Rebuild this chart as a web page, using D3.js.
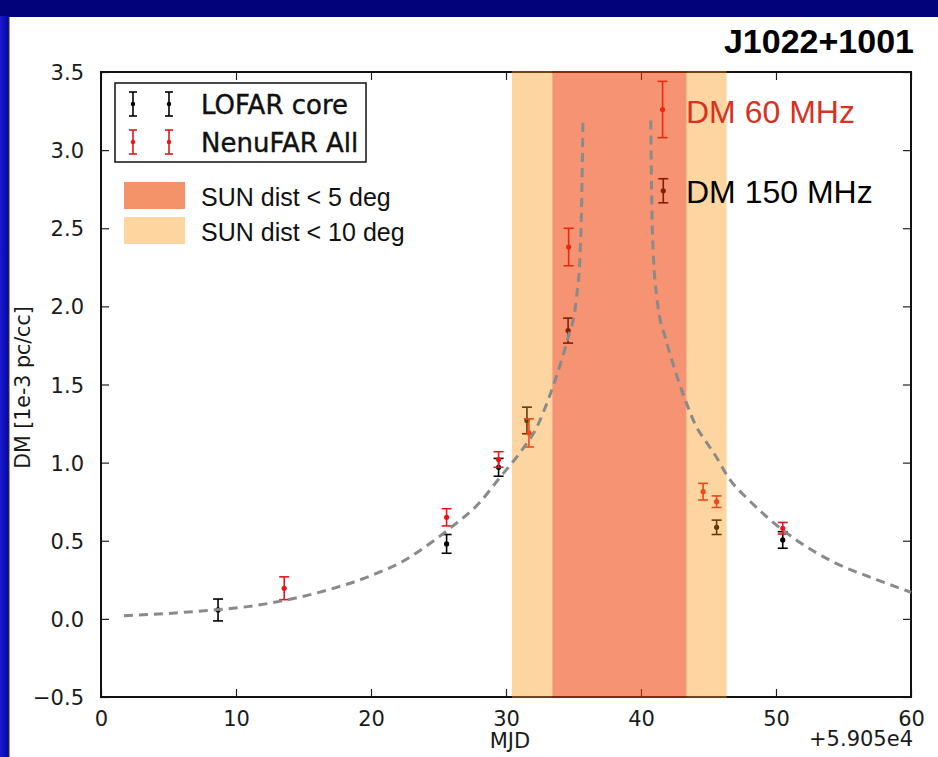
<!DOCTYPE html>
<html>
<head>
<meta charset="utf-8">
<script src="https://cdn.jsdelivr.net/npm/d3@7"></script>
<style>
  html, body { margin: 0; padding: 0; background: #02027a; }
  svg { display: block; }
</style>
</head>
<body>
<svg id="chart" width="938" height="757"></svg>
<script>
// ---- data -------------------------------------------------------------
const xTicks = [0, 10, 20, 30, 40, 50, 60];
const yTicks = [-0.5, 0, 0.5, 1.0, 1.5, 2.0, 2.5, 3.0, 3.5];

// LOFAR core DM measurements (MJD offset from 59050, DM in 1e-3 pc/cc)
const lofarMJD = [8.67, 25.6, 29.45, 31.55, 34.6, 41.65, 45.6, 50.5];
const lofarDM  = [0.057, 0.48, 0.97, 1.27, 1.845, 2.74, 0.586, 0.505];
const lofarErr = [0.07, 0.06, 0.057, 0.085, 0.08, 0.077, 0.046, 0.053];

// NenuFAR DM measurements
const nenuMJD = [13.57, 25.6, 29.45, 31.7, 34.64, 41.6, 44.6, 45.6, 50.5];
const nenuDM  = [0.196, 0.65, 1.02, 1.19, 2.38, 3.26, 0.814, 0.75, 0.58];
const nenuErr = [0.073, 0.055, 0.05, 0.09, 0.12, 0.18, 0.053, 0.037, 0.037];

// Solar-wind model curve, before and after conjunction
const modelPreMJD  = [1.7, 5, 8.2, 11, 13.7, 17, 20.1, 22.6, 24, 26, 28, 29.5, 31, 32.3, 33.2, 34.2, 34.6, 35.2, 35.5, 35.6, 35.7];
const modelPreDM   = [0.02, 0.035, 0.056, 0.08, 0.12, 0.19, 0.28, 0.38, 0.46, 0.59, 0.74, 0.9, 1.06, 1.23, 1.42, 1.68, 1.8, 2.04, 2.36, 2.65, 3.19];
const modelPostMJD = [40.72, 40.8, 40.9, 41.2, 41.8, 42.2, 43.2, 44.1, 44.85, 45.4, 46.6, 48, 49.3, 51.5, 54.2, 57.5, 60];
const modelPostDM  = [3.19, 2.65, 2.36, 2.04, 1.8, 1.68, 1.42, 1.23, 1.13, 1.06, 0.89, 0.76, 0.654, 0.505, 0.366, 0.25, 0.17];

// Sun-proximity windows (MJD offset)
const sun10 = [30.44, 46.34];
const sun5  = [33.43, 43.37];

// ---- layout -----------------------------------------------------------
const svg = d3.select("#chart");
const W = 938, H = 757;
const plot = { left: 101, right: 911, top: 72, bottom: 697 };

const x = d3.scaleLinear().domain([0, 60]).range([plot.left, plot.right]);
const y = d3.scaleLinear().domain([-0.5, 3.5]).range([plot.bottom, plot.top]);

const mplFont = "'DejaVu Sans', 'Bitstream Vera Sans', sans-serif";
const slideFont = "'Liberation Sans', Arial, Helvetica, sans-serif";

// slide frame
svg.append("rect").attr("width", W).attr("height", H).attr("fill", "#02027a");
const edge = svg.append("defs").append("linearGradient").attr("id", "edgeBlue")
  .attr("x1", 0).attr("x2", 1).attr("y1", 0).attr("y2", 0);
edge.append("stop").attr("offset", 0).attr("stop-color", "#1a1ad0");
edge.append("stop").attr("offset", 1).attr("stop-color", "#0606a0");
svg.append("rect").attr("x", 0).attr("y", 16).attr("width", 9).attr("height", H - 16)
  .attr("fill", "url(#edgeBlue)");
svg.append("rect").attr("x", 9).attr("y", 17).attr("width", W - 9).attr("height", H - 17)
  .attr("fill", "#ffffff");
svg.append("line").attr("x1", 9).attr("x2", 9).attr("y1", 17).attr("y2", H)
  .attr("stroke", "#333").attr("stroke-width", 1);

// ---- axes -------------------------------------------------------------
const fmtY = d => d3.format(".1f")(d).replace("-", "\u2212");

const gAxes = svg.append("g");
// left axis with labels, ticks pointing inward
gAxes.append("g").attr("transform", `translate(${plot.left},0)`)
  .call(d3.axisLeft(y).tickValues(yTicks).tickFormat(fmtY).tickSizeInner(-8).tickSizeOuter(0).tickPadding(17))
  .call(g => g.select(".domain").remove())
  .call(g => g.selectAll("text").attr("font-family", mplFont).attr("font-size", 21).attr("fill", "#1a1a1a").attr("dy", "0.36em"))
  .call(g => g.selectAll("line").attr("stroke", "#222").attr("stroke-width", 1.2));
// right axis ticks only
gAxes.append("g").attr("transform", `translate(${plot.right},0)`)
  .call(d3.axisRight(y).tickValues(yTicks).tickFormat("").tickSizeInner(-8).tickSizeOuter(0))
  .call(g => g.select(".domain").remove())
  .call(g => g.selectAll("line").attr("stroke", "#222").attr("stroke-width", 1.2));
// bottom axis with labels
gAxes.append("g").attr("transform", `translate(0,${plot.bottom})`)
  .call(d3.axisBottom(x).tickValues(xTicks).tickFormat(d3.format("d")).tickSizeInner(-8).tickSizeOuter(0).tickPadding(14))
  .call(g => g.select(".domain").remove())
  .call(g => g.selectAll("text").attr("font-family", mplFont).attr("font-size", 21).attr("fill", "#1a1a1a"))
  .call(g => g.selectAll("line").attr("stroke", "#222").attr("stroke-width", 1.2));
// top axis ticks only
gAxes.append("g").attr("transform", `translate(0,${plot.top})`)
  .call(d3.axisTop(x).tickValues(xTicks).tickFormat("").tickSizeInner(-8).tickSizeOuter(0))
  .call(g => g.select(".domain").remove())
  .call(g => g.selectAll("line").attr("stroke", "#222").attr("stroke-width", 1.2));

// axes frame
svg.append("rect").attr("x", plot.left).attr("y", plot.top)
  .attr("width", plot.right - plot.left).attr("height", plot.bottom - plot.top)
  .attr("fill", "none").attr("stroke", "#111").attr("stroke-width", 2);

// axis titles
svg.append("text").attr("x", (plot.left + plot.right) / 2 + 4).attr("y", 748)
  .attr("text-anchor", "middle").attr("font-family", mplFont).attr("font-size", 21)
  .attr("fill", "#1a1a1a").text("MJD");
svg.append("text").attr("x", plot.right + 2).attr("y", 746)
  .attr("text-anchor", "end").attr("font-family", mplFont).attr("font-size", 21)
  .attr("fill", "#1a1a1a").text("+5.905e4");
svg.append("text").attr("transform", `translate(30,${(plot.top + plot.bottom) / 2 + 3}) rotate(-90)`)
  .attr("text-anchor", "middle").attr("font-family", mplFont).attr("font-size", 20.5)
  .attr("fill", "#1a1a1a").text("DM [1e-3 pc/cc]");

// ---- error bars -------------------------------------------------------
function errorBars(g, xs, ys, es, color) {
  const rows = xs.map((d, i) => ({ x: d, y: ys[i], e: es[i] }));
  const grp = g.append("g").selectAll("g").data(rows).join("g");
  grp.append("line")
    .attr("x1", d => x(d.x)).attr("x2", d => x(d.x))
    .attr("y1", d => y(d.y - d.e)).attr("y2", d => y(d.y + d.e))
    .attr("stroke", color).attr("stroke-width", 1.6);
  [-1, 1].forEach(s => {
    grp.append("line")
      .attr("x1", d => x(d.x) - 5).attr("x2", d => x(d.x) + 5)
      .attr("y1", d => y(d.y + s * d.e)).attr("y2", d => y(d.y + s * d.e))
      .attr("stroke", color).attr("stroke-width", 1.6);
  });
  grp.append("circle").attr("cx", d => x(d.x)).attr("cy", d => y(d.y))
    .attr("r", 2.6).attr("fill", color);
}
const gData = svg.append("g");
errorBars(gData, lofarMJD, lofarDM, lofarErr, "#000000");
errorBars(gData, nenuMJD, nenuDM, nenuErr, "#e8141c");

// ---- plot legend (errorbar entries) -----------------------------------
const gLeg = svg.append("g");
gLeg.append("rect").attr("x", 115).attr("y", 83).attr("width", 251).attr("height", 79)
  .attr("fill", "#fff").attr("stroke", "#111").attr("stroke-width", 1.5);
const legRows = [
  { label: "LOFAR core", color: "#000000", cy: 104 },
  { label: "NenuFAR All", color: "#e8141c", cy: 142 }
];
legRows.forEach(r => {
  [133, 169].forEach(cx => {
    gLeg.append("line").attr("x1", cx).attr("x2", cx).attr("y1", r.cy - 12).attr("y2", r.cy + 12)
      .attr("stroke", r.color).attr("stroke-width", 1.6);
    [-12, 12].forEach(o => gLeg.append("line").attr("x1", cx - 4).attr("x2", cx + 4)
      .attr("y1", r.cy + o).attr("y2", r.cy + o).attr("stroke", r.color).attr("stroke-width", 1.6));
    gLeg.append("circle").attr("cx", cx).attr("cy", r.cy).attr("r", 2.2).attr("fill", r.color);
  });
  gLeg.append("text").attr("x", 201).attr("y", r.cy + 10).attr("font-family", mplFont)
    .attr("font-size", 26).attr("fill", "#111").attr("stroke", "#111").attr("stroke-width", 0.4)
    .text(r.label);
});

// ---- Sun-proximity windows --------------------------------------------
const gBands = svg.append("g");
[[sun10[0], sun5[0]], [sun5[1], sun10[1]]].forEach(b => {
  gBands.append("rect").attr("x", x(b[0])).attr("width", x(b[1]) - x(b[0]))
    .attr("y", plot.top - 1).attr("height", plot.bottom - plot.top + 2)
    .attr("fill", "#fa9611").attr("fill-opacity", 0.4);
});
gBands.append("rect").attr("x", x(sun5[0])).attr("width", x(sun5[1]) - x(sun5[0]))
  .attr("y", plot.top - 1).attr("height", plot.bottom - plot.top + 2)
  .attr("fill", "#ed3b00").attr("fill-opacity", 0.55);

// ---- model curve ------------------------------------------------------
const line = d3.line().x(d => x(d[0])).y(d => y(d[1])).curve(d3.curveMonotoneX);
[[modelPreMJD, modelPreDM], [modelPostMJD, modelPostDM]].forEach(([xs, ys]) => {
  svg.append("path").datum(xs.map((d, i) => [d, ys[i]]))
    .attr("d", line).attr("fill", "none")
    .attr("stroke", "#8a8a8a").attr("stroke-width", 3)
    .attr("stroke-dasharray", "9,6");
});

// ---- window legend ----------------------------------------------------
const bandLeg = [
  { label: "SUN dist < 5 deg", color: "#f4926a", y: 182 },
  { label: "SUN dist < 10 deg", color: "#fdd59f", y: 217 }
];
bandLeg.forEach(r => {
  svg.append("rect").attr("x", 124).attr("y", r.y).attr("width", 61).attr("height", 27)
    .attr("fill", r.color);
  svg.append("text").attr("x", 201).attr("y", r.y + 24).attr("font-family", slideFont)
    .attr("font-size", 25).attr("fill", "#111").text(r.label);
});

// ---- annotations ------------------------------------------------------
svg.append("text").attr("x", 686).attr("y", 123).attr("font-family", slideFont)
  .attr("font-size", 32).attr("fill", "#d8311f").text("DM 60 MHz");
svg.append("text").attr("x", 686).attr("y", 203).attr("font-family", slideFont)
  .attr("font-size", 32).attr("fill", "#000").text("DM 150 MHz");
svg.append("text").attr("x", 914).attr("y", 53).attr("text-anchor", "end")
  .attr("font-family", slideFont).attr("font-weight", "bold")
  .attr("font-size", 34).attr("fill", "#000").text("J1022+1001");
</script>
</body>
</html>
